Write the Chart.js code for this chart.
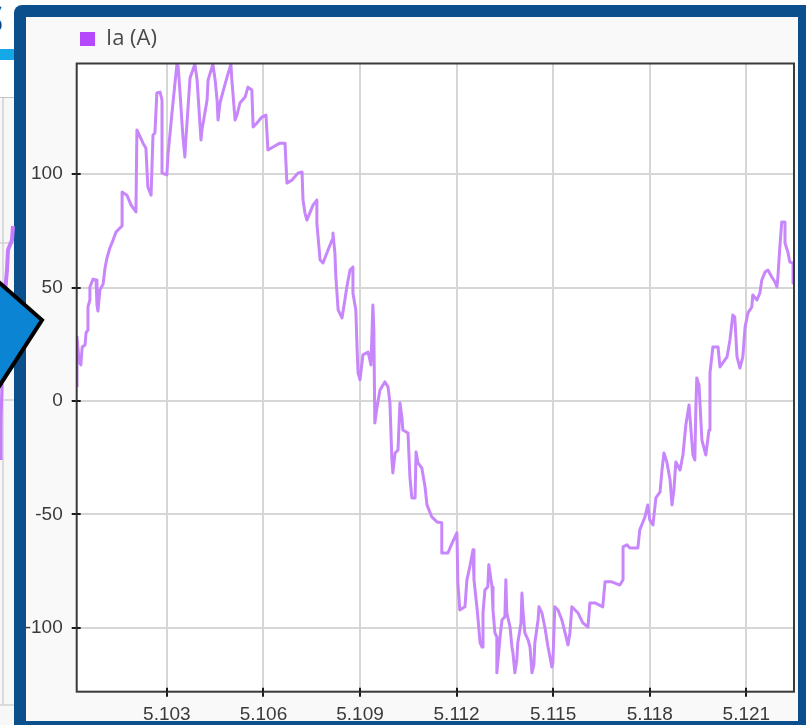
<!DOCTYPE html>
<html>
<head>
<meta charset="utf-8">
<script src="https://cdn.jsdelivr.net/npm/chart.js@4.4.1/dist/chart.umd.min.js"></script>
<style>
html, body { margin: 0; padding: 0; width: 806px; height: 725px; overflow: hidden; background: #fff; position: relative; }
#glyph { position: absolute; left: -19px; top: -10px; font: bold 40px "Open Sans", sans-serif; color: #123f73; }
#cyan { position: absolute; left: 0; top: 49px; width: 14px; height: 11px; background: #14a8e6; }
#side { position: absolute; left: 0; top: 97px; width: 14px; height: 628px; background: #f7f7f7; border-top: 1px solid #c4c4c4; }
#frame { position: absolute; left: 14px; top: 5px; width: 800px; height: 720px; background: #0b4f8d; border-top-left-radius: 8px; }
#panel { position: absolute; left: 26px; top: 17px; width: 772px; height: 704px; background: #f9f9f9; }
#wrap { position: absolute; left: 26px; top: 17px; width: 772px; height: 703px; }
#deco { position: absolute; left: 0; top: 0; }
</style>
</head>
<body>
<div id="glyph">S</div>
<div id="cyan"></div>
<div id="side"></div>
<div id="frame"></div>
<div id="panel"></div>
<div id="wrap"><canvas id="scope" width="772" height="703"></canvas></div>
<svg id="deco" width="806" height="725">
  <line x1="3" y1="98" x2="3" y2="705" stroke="#d2d2d2" stroke-width="1.5"/>
  <line x1="0" y1="243" x2="14" y2="243" stroke="#d2d2d2" stroke-width="1.5"/>
  <line x1="0" y1="400" x2="14" y2="400" stroke="#d2d2d2" stroke-width="1.5"/>
  <line x1="0" y1="705" x2="14" y2="705" stroke="#d2d2d2" stroke-width="1.5"/>
  <polyline points="13,226 12,240 8,250 7,270 5,292" fill="none" stroke="#c47cfb" stroke-width="4"/>
  <polyline points="2,384 1,420 1,460" fill="none" stroke="#c47cfb" stroke-width="3"/>
  <polygon points="-30,257 42,320 -20,416" fill="#0a84d3" stroke="#000" stroke-width="4" stroke-linejoin="miter"/>
</svg>
<script>
// scope trace Ia (A)
const times = [
  5.10021, 5.10021, 5.10027, 5.10033, 5.10037, 5.10046, 5.10049, 5.10055, 5.10055, 5.10061,
  5.10061, 5.10071, 5.10080, 5.10083, 5.10086, 5.10092, 5.10102, 5.10108, 5.10114, 5.10123,
  5.10133, 5.10142, 5.10154, 5.10161, 5.10161, 5.10176, 5.10189, 5.10204, 5.10207, 5.10226,
  5.10235, 5.10241, 5.10251, 5.10257, 5.10263, 5.10269, 5.10279, 5.10285, 5.10285, 5.10300,
  5.10304, 5.10319, 5.10331, 5.10335, 5.10341, 5.10350, 5.10356, 5.10359, 5.10372, 5.10387,
  5.10394, 5.10406, 5.10409, 5.10425, 5.10428, 5.10443, 5.10450, 5.10456, 5.10459, 5.10465,
  5.10474, 5.10487, 5.10499, 5.10502, 5.10512, 5.10518, 5.10527, 5.10543, 5.10552, 5.10564,
  5.10568, 5.10580, 5.10595, 5.10608, 5.10614, 5.10630, 5.10651, 5.10667, 5.10673, 5.10689,
  5.10707, 5.10720, 5.10723, 5.10729, 5.10735, 5.10754, 5.10766, 5.10766, 5.10776, 5.10785,
  5.10797, 5.10813, 5.10816, 5.10822, 5.10825, 5.10832, 5.10844, 5.10853, 5.10859, 5.10869,
  5.10878, 5.10878, 5.10887, 5.10891, 5.10894, 5.10900,
  5.10909, 5.10925, 5.10934, 5.10940, 5.10943, 5.10946, 5.10953, 5.10962, 5.10977, 5.10987,
  5.10993, 5.10999, 5.11002, 5.11009, 5.11018, 5.11024, 5.11030, 5.11033, 5.11049, 5.11055,
  5.11061, 5.11071, 5.11074, 5.11080, 5.11092, 5.11102, 5.11108, 5.11123, 5.11139, 5.11154,
  5.11154, 5.11173, 5.11186, 5.11201, 5.11204, 5.11210, 5.11226, 5.11232, 5.11241, 5.11251,
  5.11254, 5.11263, 5.11266, 5.11273, 5.11279, 5.11282, 5.11288, 5.11297, 5.11300, 5.11310,
  5.11313, 5.11319, 5.11325, 5.11325, 5.11328, 5.11335, 5.11341, 5.11350, 5.11353, 5.11356,
  5.11366, 5.11372, 5.11375, 5.11381, 5.11387, 5.11390, 5.11400, 5.11403, 5.11406, 5.11412,
  5.11422, 5.11428, 5.11434, 5.11440, 5.11443, 5.11453, 5.11456, 5.11465, 5.11474, 5.11484,
  5.11496, 5.11499, 5.11505, 5.11515, 5.11527, 5.11537, 5.11546, 5.11552, 5.11558, 5.11568,
  5.11577, 5.11592, 5.11608, 5.11614, 5.11630, 5.11654, 5.11661, 5.11682, 5.11707, 5.11717,
  5.11717, 5.11729, 5.11738,
  5.11763, 5.11769, 5.11785, 5.11794, 5.11800, 5.11810, 5.11819, 5.11832, 5.11838, 5.11844,
  5.11853, 5.11863, 5.11869, 5.11875, 5.11881, 5.11894, 5.11903, 5.11912, 5.11922, 5.11928,
  5.11934, 5.11940, 5.11943, 5.11946, 5.11953, 5.11962, 5.11974, 5.11984, 5.11987, 5.11996,
  5.12012, 5.12018, 5.12040, 5.12049, 5.12058, 5.12064, 5.12071, 5.12080, 5.12089, 5.12096,
  5.12105, 5.12117, 5.12120, 5.12133, 5.12142, 5.12148, 5.12158, 5.12167, 5.12179, 5.12189,
  5.12195, 5.12198, 5.12204, 5.12210, 5.12220, 5.12220, 5.12229, 5.12235, 5.12245, 5.12245
];
const current = [
  6.2, 28.2, 18.1, 15.9, 23.8, 24.7, 30.0, 31.3, 41.4, 44.5,
  50.2, 53.7, 53.3, 42.3, 39.6, 48.9, 51.5, 58.6, 63.0, 67.4,
  70.9, 74.4, 76.2, 77.1, 92.1, 90.7, 86.3, 83.3, 119.4, 113.6,
  111.4, 94.3, 90.7, 117.2, 118.1, 135.7, 136.1, 132.6, 100.4, 99.6,
  109.2, 131.3, 148.0, 147.6, 135.7, 116.3, 107.5, 115.0, 142.3, 148.4,
  141.4, 115.0, 119.4, 132.6, 141.4, 148.4, 141.4, 132.6, 123.8, 131.3,
  136.1, 142.7, 148.4, 141.4, 123.8, 126.0, 131.3, 133.9, 138.3, 137.0,
  120.7, 122.5, 125.1, 126.0, 110.6, 111.9, 113.6, 113.6, 96.0, 97.4,
  100.4, 100.9, 88.5, 82.8, 79.7, 86.3, 88.5, 78.4, 62.1, 60.8,
  65.2, 70.9, 74.0, 65.2, 54.6, 40.1, 36.6, 44.5, 50.2, 57.7,
  59.0, 47.6, 40.1, 22.5, 12.3, 9.3,
  20.3, 21.6, 15.9, 42.3, 31.3, -9.7, -2.6, 4.8, 8.4, 6.2,
  -0.9, -26.0, -31.7, -22.9, -21.6, -0.9, -7.0, -12.8, -14.1, -33.5,
  -42.7, -42.7, -22.5, -27.3, -29.5, -37.9, -45.8, -51.1, -53.3, -53.7,
  -67.0, -67.0, -62.6, -58.1, -80.2, -92.1, -90.7, -78.8, -73.1, -65.6,
  -78.8, -90.7, -95.1, -106.6, -108.4, -93.4, -83.3, -81.9, -72.2, -81.9,
  -92.1, -102.2, -104.0, -119.8, -115.4, -104.0, -96.5, -95.1, -78.8, -93.4,
  -99.6, -108.4, -111.0, -119.8, -114.1, -106.6, -97.8, -84.6, -92.1, -102.2,
  -105.3, -108.4, -119.8, -116.3, -106.6, -96.5, -90.7, -93.4, -99.6, -108.4,
  -117.2, -115.4, -90.7, -92.1, -96.5, -102.2, -107.5, -102.2, -90.7, -92.1,
  -93.4, -97.8, -99.6, -89.0, -89.0, -90.7, -79.7, -79.7, -81.1, -78.8,
  -64.3, -63.4, -64.8,
  -64.8, -56.8, -51.1, -45.8, -52.4, -54.6, -42.7, -40.1, -30.4, -22.9,
  -26.9, -34.8, -45.8, -39.2, -26.9, -30.4, -23.8, -10.6, -1.8, -12.8,
  -23.8, -26.0, -4.0, 10.1, 7.0, -17.2, -23.8, -12.8, 12.3, 23.8,
  23.8, 15.0, 19.4, 26.9, 37.9, 37.0, 19.4, 14.5, 19.4, 32.6,
  38.8, 41.4, 46.7, 44.5, 47.6, 53.3, 56.8, 57.7, 54.6, 52.4,
  50.2, 54.6, 67.8, 78.9, 78.9, 69.6, 65.6, 61.2, 60.8, 52.0
];
const xTicks = [5.103, 5.106, 5.109, 5.112, 5.115, 5.118, 5.121];
const yTicks = [-100, -50, 0, 50, 100];
const seriesLabel = 'Ia (A)';

const tickFont = { family: '"Liberation Sans", Arial, sans-serif', size: 19 };

// white plot area, dark box, small inner tick stubs, legend nudged right
const scopeFrame = {
    id: 'scopeFrame',
    beforeInit(chart) {
        const fit = chart.legend.fit;
        chart.legend.fit = function () {
            fit.bind(chart.legend)();
            this.height = 45.5;
        };
    },
    afterLayout(chart) {
        chart.legend.left = 44;
    },
    beforeDraw(chart) {
        const a = chart.chartArea;
        const c = chart.ctx;
        c.save();
        c.fillStyle = '#ffffff';
        c.fillRect(a.left, a.top, a.right - a.left, a.bottom - a.top);
        c.restore();
    },
    afterDatasetsDraw(chart) {
        const a = chart.chartArea;
        const c = chart.ctx;
        c.save();
        c.strokeStyle = '#3a3a3a';
        c.lineWidth = 2;
        c.strokeRect(a.left, a.top, a.right - a.left, a.bottom - a.top);
        c.strokeStyle = '#1a1a1a';
        c.beginPath();
        xTicks.forEach(v => {
            const px = Math.round(chart.scales.x.getPixelForValue(v));
            c.moveTo(px, a.bottom);
            c.lineTo(px, a.bottom - 4);
        });
        yTicks.forEach(v => {
            const py = Math.round(chart.scales.y.getPixelForValue(v));
            c.moveTo(a.left, py);
            c.lineTo(a.left + 4, py);
        });
        c.stroke();
        c.restore();
    }
};

new Chart(document.getElementById('scope'), {
    type: 'line',
    data: {
        datasets: [{
            label: seriesLabel,
            data: times.map((t, i) => ({ x: t, y: current[i] })),
            borderColor: '#c886fb',
            backgroundColor: '#b548fb',
            borderWidth: 3,
            pointRadius: 0,
            tension: 0,
            borderJoinStyle: 'round'
        }]
    },
    options: {
        responsive: false,
        animation: false,
        layout: { padding: { left: 0, right: 4, top: 1, bottom: 0 } },
        plugins: {
            tooltip: { enabled: false },
            legend: {
                position: 'top',
                align: 'start',
                labels: {
                    boxWidth: 15,
                    boxHeight: 14,
                    padding: 10,
                    color: '#4a4a4a',
                    font: { family: '"Open Sans", sans-serif', size: 22 },
                    generateLabels: (chart) => Chart.defaults.plugins.legend.labels.generateLabels(chart)
                        .map(l => Object.assign(l, { lineWidth: 0, fillStyle: '#b548fb' }))
                }
            }
        },
        scales: {
            x: {
                type: 'linear',
                min: 5.1002,
                max: 5.12248,
                afterBuildTicks: s => { s.ticks = xTicks.map(v => ({ value: v })); },
                afterFit: s => { s.height = 28.3; },
                border: { display: false },
                grid: { color: '#d6d6d6', lineWidth: 2, tickColor: '#1a1a1a', tickLength: 5, tickWidth: 2 },
                ticks: {
                    autoSkip: false,
                    maxRotation: 0,
                    padding: 7,
                    color: '#3a3a3a',
                    font: tickFont,
                    callback: v => v.toFixed(3)
                }
            },
            y: {
                min: -128.1,
                max: 148.7,
                afterBuildTicks: s => { s.ticks = yTicks.map(v => ({ value: v })); },
                afterFit: s => { s.width = 50.7; },
                border: { display: false },
                grid: { color: '#d6d6d6', lineWidth: 2, tickColor: '#1a1a1a', tickLength: 5, tickWidth: 2 },
                ticks: {
                    padding: 9,
                    color: '#3a3a3a',
                    font: tickFont,
                    callback: v => String(v)
                }
            }
        }
    },
    plugins: [scopeFrame]
});
</script>
</body>
</html>
